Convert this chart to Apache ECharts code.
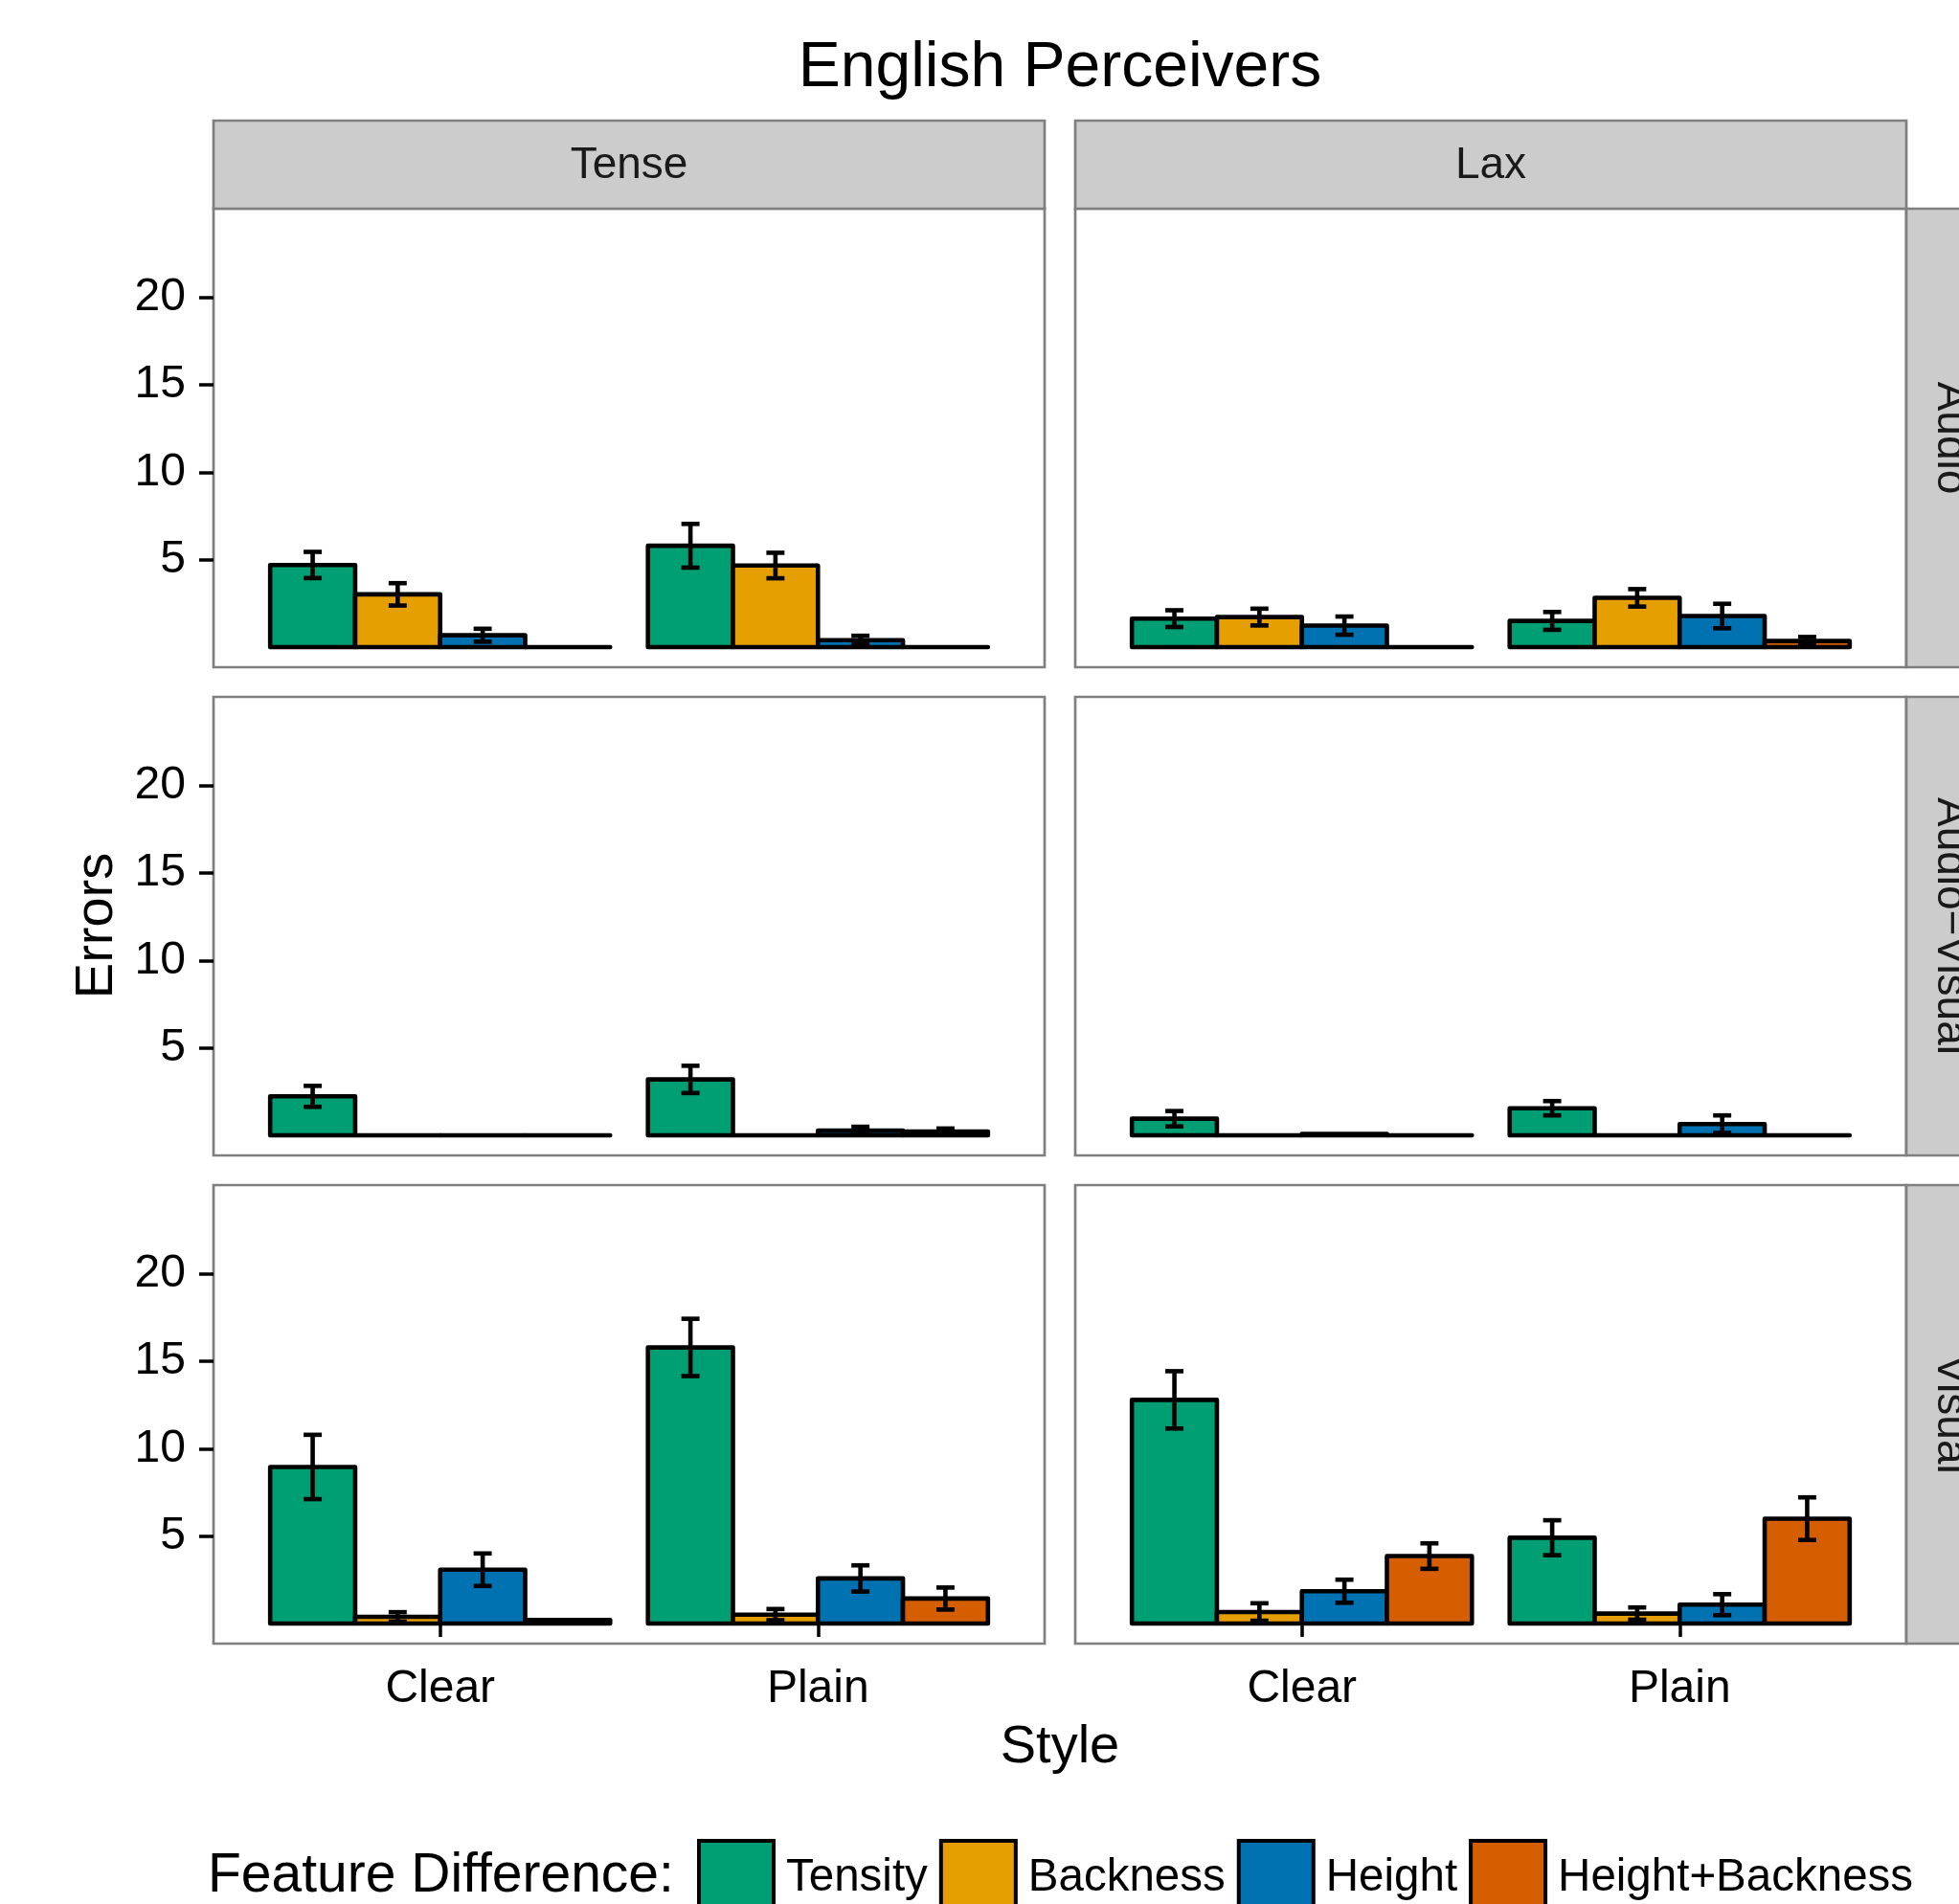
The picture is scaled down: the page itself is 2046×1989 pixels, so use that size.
<!DOCTYPE html>
<html><head><meta charset="utf-8">
<script src="https://cdn.jsdelivr.net/npm/echarts@6/dist/echarts.min.js"></script>
<style>html,body{margin:0;padding:0;background:#fff}#c{width:2046px;height:1989px}</style>
</head><body><div id="c"></div>
<script>
const FONT = '"Liberation Sans", Arial, Helvetica, sans-serif';

// ---------- data ----------
const styles = ['Clear', 'Plain'];
const vowelTypes = ['Tense', 'Lax'];
const modalities = ['Audio', 'Audio\u2212Visual', 'Visual'];
const features = ['Tensity', 'Backness', 'Height', 'Height+Backness'];
const yTickValues = [5, 10, 15, 20];

// mean errors: one row per feature, columns = [Clear, Plain]
const tenseAudioMean  = [[4.70, 5.80], [3.02, 4.67], [0.68, 0.40], [0, 0]];
const tenseAudioSE    = [[0.75, 1.25], [0.64, 0.73], [0.37, 0.25], [0, 0]];
const laxAudioMean    = [[1.63, 1.50], [1.72, 2.82], [1.23, 1.78], [0, 0.35]];
const laxAudioSE      = [[0.48, 0.51], [0.48, 0.50], [0.52, 0.70], [0, 0.23]];
const tenseAVMean     = [[2.23, 3.20], [0, 0], [0, 0.27], [0, 0.22]];
const tenseAVSE       = [[0.60, 0.78], [0, 0], [0, 0.22], [0, 0.17]];
const laxAVMean       = [[0.95, 1.55], [0, 0], [0.08, 0.64], [0, 0]];
const laxAVSE         = [[0.44, 0.41], [0, 0], [0, 0.50], [0, 0]];
const tenseVisualMean = [[8.96, 15.80], [0.38, 0.51], [3.08, 2.58], [0.20, 1.43]];
const tenseVisualSE   = [[1.84, 1.64], [0.27, 0.32], [0.93, 0.75], [0, 0.63]];
const laxVisualMean   = [[12.80, 4.91], [0.66, 0.57], [1.85, 1.08], [3.86, 6.00]];
const laxVisualSE     = [[1.64, 1.00], [0.50, 0.35], [0.66, 0.60], [0.73, 1.22]];

// ---------- styling / layout ----------
const featureColors = ['#009E73', '#E69F00', '#0072B2', '#D55E00'];
const colLeft = [223, 1123], panelW = 868;
const rowTop = [218, 728, 1238], panelH = 479;
const stripTop = 126, stripH = 92, rightStripX = 1991, rightStripW = 95;
const dodge = 0.9, barW = dodge / features.length, capHalf = 0.024;
const LW = 4.6;

const panels = [
  { row: 0, col: 0, mean: tenseAudioMean, se: tenseAudioSE },
  { row: 0, col: 1, mean: laxAudioMean, se: laxAudioSE },
  { row: 1, col: 0, mean: tenseAVMean, se: tenseAVSE },
  { row: 1, col: 1, mean: laxAVMean, se: laxAVSE },
  { row: 2, col: 0, mean: tenseVisualMean, se: tenseVisualSE },
  { row: 2, col: 1, mean: laxVisualMean, se: laxVisualSE }
];

function renderBar(params, api) {
  const x = api.value(0), y = api.value(1), se = api.value(2);
  const a = api.coord([x - barW / 2, 0]);
  const b = api.coord([x + barW / 2, y]);
  const children = [{
    type: 'rect',
    shape: { x: a[0], y: Math.min(a[1], b[1]), width: b[0] - a[0], height: Math.abs(a[1] - b[1]) },
    style: { fill: api.visual('color'), stroke: '#000', lineWidth: LW, lineJoin: 'round', lineCap: 'round' }
  }];
  if (se > 0) {
    const t = api.coord([x, y + se]), m = api.coord([x, y - se]);
    const c = api.coord([x + capHalf, 0])[0] - api.coord([x, 0])[0];
    const ls = { stroke: '#000', lineWidth: LW, lineCap: 'butt' };
    children.push({ type: 'line', shape: { x1: t[0], y1: t[1], x2: m[0], y2: m[1] }, style: ls });
    children.push({ type: 'line', shape: { x1: t[0] - c, y1: t[1], x2: t[0] + c, y2: t[1] }, style: ls });
    children.push({ type: 'line', shape: { x1: m[0] - c, y1: m[1], x2: m[0] + c, y2: m[1] }, style: ls });
  }
  return { type: 'group', children };
}

const grid = [], xAxis = [], yAxis = [], series = [];
panels.forEach((p, i) => {
  grid.push({ left: colLeft[p.col], top: rowTop[p.row], width: panelW, height: panelH,
    show: true, borderColor: '#7f7f7f', borderWidth: 2.7, backgroundColor: '#fff' });
  const bottom = p.row === 2, left = p.col === 0;
  xAxis.push({ gridIndex: i, type: 'value', min: 0.4, max: 2.6,
    splitLine: { show: false }, axisLine: { show: false },
    axisTick: { show: bottom, customValues: [1, 2], length: 14, lineStyle: { color: '#000', width: 3.5 } },
    axisLabel: { show: bottom, customValues: [1, 2], formatter: v => styles[Math.round(v) - 1],
      fontSize: 48, fontFamily: FONT, color: '#000', margin: 47.5, verticalAlign: 'middle' } });
  yAxis.push({ gridIndex: i, type: 'value', min: -1.15, max: 25.09,
    splitLine: { show: false }, axisLine: { show: false },
    axisTick: { show: left, customValues: yTickValues, length: 15, lineStyle: { color: '#000', width: 3.5 } },
    axisLabel: { show: left, customValues: yTickValues, fontSize: 48, fontFamily: FONT, color: '#000', margin: 29 } });
  features.forEach((f, fi) => {
    series.push({
      type: 'custom', name: f, xAxisIndex: i, yAxisIndex: i, clip: true,
      itemStyle: { color: featureColors[fi], borderColor: '#000', borderWidth: LW },
      encode: { x: 0, y: 1 },
      data: styles.map((s, k) => [k + 1 + (fi - (features.length - 1) / 2) * barW, p.mean[fi][k], p.se[fi][k]]),
      renderItem: renderBar
    });
  });
});

const graphics = [];
function txt(text, x, y, size, opts) {
  return Object.assign({ type: 'text', x, y, z: 20,
    style: { text, fontSize: size, fontFamily: FONT, fill: '#000', align: 'center', verticalAlign: 'middle' } }, opts || {});
}
vowelTypes.forEach((v, c) => {
  graphics.push({ type: 'rect', z: 5, shape: { x: colLeft[c], y: stripTop, width: panelW, height: stripH },
    style: { fill: '#cccccc', stroke: '#7f7f7f', lineWidth: 2.7 } });
  const t = txt(v, colLeft[c] + panelW / 2, stripTop + stripH / 2 + 1.5, 46);
  t.style.fill = '#1a1a1a';
  graphics.push(t);
});
modalities.forEach((m, r) => {
  graphics.push({ type: 'rect', z: 5, shape: { x: rightStripX, y: rowTop[r], width: rightStripW, height: panelH },
    style: { fill: '#cccccc', stroke: '#7f7f7f', lineWidth: 2.7 } });
  const t = txt(m, 2037, rowTop[r] + panelH / 2, 46, { rotation: -Math.PI / 2 });
  t.style.fill = '#1a1a1a';
  graphics.push(t);
});
graphics.push(txt('English Perceivers', 1107, 71.5, 66));
graphics.push(txt('Style', 1107, 1826, 56));
graphics.push(txt('Errors', 101.5, 967, 56, { rotation: Math.PI / 2 }));
const lt = txt('Feature Difference:', 217, 1960, 57);
lt.style.align = 'left';
graphics.push(lt);

const chart = echarts.init(document.getElementById('c'), null, { renderer: 'canvas' });
chart.setOption({
  animation: false,
  backgroundColor: '#fff',
  grid, xAxis, yAxis, series,
  graphic: graphics,
  legend: {
    data: features, left: 723, top: 1916, orient: 'horizontal',
    itemWidth: 78, itemHeight: 78, itemGap: 12, icon: 'rect',
    itemStyle: { borderColor: '#000', borderWidth: 4 },
    textStyle: { fontSize: 47.5, fontFamily: FONT, color: '#000', padding: [0, 0, 0, 8] }
  }
});
</script></body></html>
